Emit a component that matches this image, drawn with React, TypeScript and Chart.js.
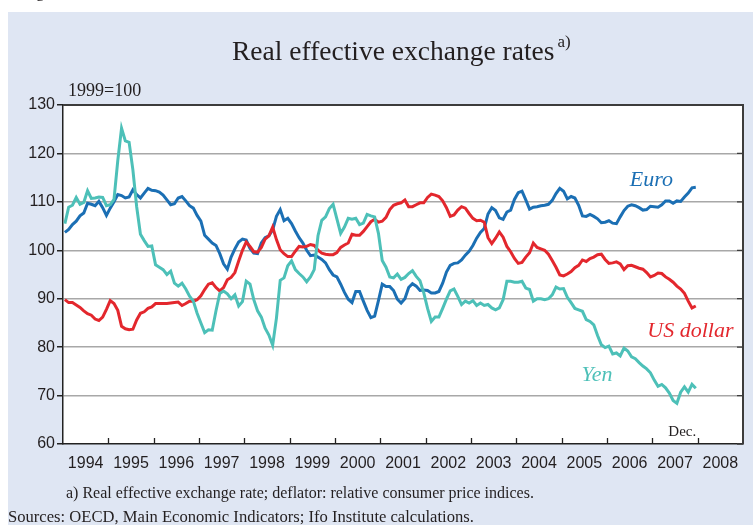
import React, { useEffect, useRef } from "react";
import { Chart, registerables } from "chart.js";

Chart.register(...registerables);

// Monthly data, January 1994 to December 2007 (index 1999 = 100)
const START_YEAR = 1994;

const yearLabels = [
  "1994", "1995", "1996", "1997", "1998", "1999", "2000", "2001",
  "2002", "2003", "2004", "2005", "2006", "2007", "2008",
];

const yTickValues = [60, 70, 80, 90, 100, 110, 120, 130];

const euro = [
  103.7, 104.3, 105.3, 106.0, 107.1, 107.7, 109.7, 109.5, 109.2, 110.1, 108.8, 107.2,
  108.7, 110.0, 111.5, 111.3, 110.8, 111.0, 112.5, 111.5, 110.8, 111.8, 112.8, 112.4,
  112.3, 112.0, 111.4, 110.4, 109.4, 109.6, 110.8, 111.1, 110.2, 109.2, 108.7, 107.2,
  106.0, 103.1, 102.3, 101.5, 101.0, 99.3, 97.2, 96.1, 98.6, 100.3, 101.7, 102.3,
  102.1, 100.4, 99.4, 99.3, 101.5, 102.6, 103.0, 104.2, 107.0, 108.4, 106.1, 106.6,
  105.5, 104.0, 102.6, 101.5, 100.0, 98.9, 99.0, 98.6, 98.1, 97.4, 96.0, 94.9,
  94.5, 93.0, 91.3, 89.9, 89.2, 91.5, 91.5, 89.5, 87.6, 86.1, 86.4, 89.6,
  93.0, 92.5, 92.5, 91.7, 89.9, 89.1, 90.0, 92.3, 93.1, 92.6, 91.7, 91.8,
  91.7, 91.2, 91.2, 91.5, 93.2, 95.5, 96.9, 97.3, 97.4, 98.0, 99.0, 99.8,
  101.0, 102.5, 103.7, 104.5, 107.5, 108.8, 108.2, 106.7, 106.4, 107.9, 108.3, 110.5,
  111.9, 112.2, 110.4, 108.5, 108.9, 109.0, 109.2, 109.3, 109.5, 110.3, 111.7, 112.8,
  112.2, 110.6, 111.1, 110.8, 109.3, 107.1, 107.0, 107.4, 107.0, 106.5, 105.7, 105.8,
  106.1, 105.6, 105.5, 106.9, 108.2, 109.1, 109.4, 109.2, 108.8, 108.3, 108.4, 109.1,
  109.0, 108.9, 109.4, 110.2, 110.2, 109.7, 110.2, 110.1, 111.0, 111.8, 112.9, 113.0,
];

const usDollar = [
  89.8, 89.2, 89.2, 88.7, 88.2, 87.5, 86.9, 86.6, 85.8, 85.5, 86.2, 87.8,
  89.6, 89.0, 87.6, 84.3, 83.8, 83.6, 83.7, 85.6, 87.0, 87.3, 88.0, 88.3,
  89.0, 89.0, 89.0, 89.0, 89.1, 89.2, 89.3, 88.6, 89.0, 89.5, 89.5, 89.8,
  90.6, 91.9, 93.0, 93.3, 92.3, 91.6, 92.3, 93.9, 94.4, 95.4, 97.8, 100.0,
  101.7, 100.8, 99.7, 99.6, 100.6, 102.3, 103.0, 104.8, 102.2, 100.1, 99.3, 98.7,
  98.7, 99.8, 100.8, 100.7, 100.8, 101.2, 101.0, 100.0, 99.4, 99.2, 99.1, 99.1,
  99.5, 100.6, 101.1, 101.5, 103.3, 103.1, 103.1, 103.9, 104.9, 105.9, 106.4, 105.8,
  106.0, 106.8, 108.4, 109.3, 109.6, 109.8, 110.4, 109.0, 109.0, 109.4, 109.8, 109.8,
  110.9, 111.6, 111.4, 111.1, 110.2, 108.8, 107.0, 107.3, 108.3, 109.0, 108.7, 107.6,
  106.6, 106.1, 106.2, 105.8, 102.6, 101.4, 102.5, 103.8, 102.7, 100.8, 99.7, 98.3,
  97.3, 97.5, 98.6, 99.5, 101.5, 100.6, 100.3, 100.0, 99.2, 97.9, 96.5, 94.9,
  94.7, 95.1, 95.6, 96.4, 96.9, 98.0, 97.7, 98.3, 98.6, 99.1, 99.2, 98.1,
  97.3, 97.4, 97.6, 97.2, 96.0, 96.8, 96.9, 96.6, 96.3, 96.1, 95.4, 94.5,
  94.8, 95.3, 95.2, 94.5, 94.0, 93.4, 92.6, 92.0, 91.1, 89.5, 88.1, 88.5,
];

const yen = [
  105.5, 108.9, 109.3, 110.9, 109.5, 109.9, 112.3, 110.7, 110.8, 111.0, 110.9, 109.2,
  109.4, 110.5, 118.5, 125.2, 122.6, 122.3, 116.6, 109.0, 103.3, 102.0, 100.8, 100.9,
  97.0, 96.5, 96.0, 95.0, 95.7, 93.2, 92.6, 93.2, 92.0, 90.5, 89.5, 87.0,
  85.0, 83.0, 83.6, 83.5, 87.5, 91.1, 91.6, 91.0, 90.0, 90.8, 88.5, 89.4,
  93.6, 93.0, 89.8, 87.5, 86.2, 83.9, 82.5, 80.4, 86.0, 93.8, 94.3, 96.8,
  97.8, 96.0, 95.2, 94.5, 93.5, 94.5, 96.0, 103.0, 106.2, 106.9, 108.6, 109.5,
  106.5, 103.5, 104.8, 106.6, 106.4, 106.6, 105.3, 105.6, 107.4, 107.1, 106.9, 103.5,
  97.9, 96.5, 94.5, 94.3, 95.1, 94.0, 94.4, 95.2, 95.8, 94.6, 93.7, 91.2,
  88.0, 85.3, 86.2, 86.2, 88.0, 89.9, 91.6, 92.0, 90.5, 88.8, 89.5, 89.1,
  89.6, 88.6, 89.1, 88.6, 88.8, 88.1, 87.7, 88.1, 89.8, 93.6, 93.6, 93.4,
  93.4, 93.6, 92.2, 91.9, 89.5, 90.0, 90.0, 89.8, 90.0, 90.8, 92.4, 92.0,
  92.1, 90.3, 89.2, 88.0, 87.7, 87.4, 85.7, 85.3, 84.6, 82.4, 80.5, 79.9,
  80.2, 78.6, 78.8, 78.2, 79.8, 79.2, 78.0, 77.6, 76.8, 76.1, 75.5, 74.7,
  73.2, 71.9, 72.3, 71.6, 70.5, 69.0, 68.4, 70.7, 71.8, 70.7, 72.3, 71.5,
];

const EURO_COLOR = "#1b6fb4";
const USD_COLOR = "#e3272d";
const YEN_COLOR = "#4dc0b8";
const PANEL_COLOR = "#dfe6f3";
const TEXT_COLOR = "#231f20";
const SERIF = '"Liberation Serif", "Times New Roman", serif';
const SANS = '"Liberation Sans", Arial, sans-serif';

const toPoints = (arr: number[]) =>
  arr.map((v, i) => ({ x: START_YEAR + (i + 0.5) / 12, y: v }));

const seriesLabels = [
  { text: "Euro", x: 2006.98, y: 113.3, color: EURO_COLOR },
  { text: "US dollar", x: 2007.84, y: 82.1, color: USD_COLOR },
  { text: "Yen", x: 2005.78, y: 73.0, color: YEN_COLOR },
];

const decorPlugin = {
  id: "decor",
  beforeDraw(chart: any) {
    const { ctx, chartArea: a, width, height } = chart;
    ctx.save();
    ctx.fillStyle = "#ffffff";
    ctx.fillRect(0, 0, width, height);
    ctx.fillStyle = PANEL_COLOR;
    ctx.fillRect(8, 12, width - 8, height - 12);
    ctx.fillStyle = "#ffffff";
    ctx.fillRect(a.left, a.top, a.right - a.left, a.bottom - a.top);
    ctx.restore();
  },
  afterDraw(chart: any) {
    const { ctx, chartArea: a, scales } = chart;
    const xs = scales.x;
    const ys = scales.y;
    ctx.save();
    // frame: top and right
    ctx.strokeStyle = "#3c3c3c";
    ctx.lineWidth = 2;
    ctx.beginPath();
    ctx.moveTo(a.left, a.top);
    ctx.lineTo(a.right, a.top);
    ctx.lineTo(a.right, a.bottom);
    ctx.stroke();
    // inward ticks on the x axis
    ctx.strokeStyle = "#222";
    ctx.lineWidth = 1.3;
    ctx.beginPath();
    for (let yr = START_YEAR + 1; yr < START_YEAR + yearLabels.length; yr++) {
      const px = Math.round(xs.getPixelForValue(yr)) + 0.5;
      ctx.moveTo(px, a.bottom);
      ctx.lineTo(px, a.bottom - 6);
    }
    ctx.stroke();
    // inward ticks on the right edge
    ctx.strokeStyle = "#3c3c3c";
    ctx.beginPath();
    yTickValues.forEach((v) => {
      const py = ys.getPixelForValue(v);
      ctx.moveTo(a.right, py);
      ctx.lineTo(a.right - 6, py);
    });
    ctx.stroke();

    // series labels
    ctx.textAlign = "center";
    ctx.textBaseline = "alphabetic";
    seriesLabels.forEach((l) => {
      ctx.fillStyle = l.color;
      ctx.font = `italic 22px ${SERIF}`;
      ctx.fillText(l.text, xs.getPixelForValue(l.x), ys.getPixelForValue(l.y));
    });
    ctx.fillStyle = TEXT_COLOR;
    ctx.font = `15px ${SERIF}`;
    ctx.fillText("Dec.", xs.getPixelForValue(2007.66), ys.getPixelForValue(61.6));

    // title
    ctx.textAlign = "left";
    ctx.fillStyle = TEXT_COLOR;
    ctx.font = `27.5px ${SERIF}`;
    const title = "Real effective exchange rates";
    ctx.fillText(title, 232, 60);
    const tw = ctx.measureText(title).width;
    ctx.font = `17px ${SERIF}`;
    ctx.fillText("a)", 232 + tw + 3, 47);

    // unit
    ctx.font = `18px ${SERIF}`;
    ctx.fillText("1999=100", 68, 96);

    // footnotes
    ctx.font = `16px ${SERIF}`;
    ctx.fillText(
      "a) Real effective exchange rate; deflator: relative consumer price indices.",
      66,
      498
    );
    ctx.font = `16.6px ${SERIF}`;
    ctx.fillText(
      "Sources: OECD, Main Economic Indicators; Ifo Institute calculations.",
      8,
      522
    );
    // cut-off caption glyph at top
    ctx.font = `17px ${SERIF}`;
    ctx.fillText("g", 36, -3);
    ctx.restore();
  },
};

export default function App() {
  const canvasRef = useRef<HTMLCanvasElement | null>(null);

  useEffect(() => {
    const canvas = canvasRef.current;
    if (!canvas) return;
    const chart = new Chart(canvas, {
      type: "line",
      data: {
        datasets: [
          {
            label: "Yen",
            data: toPoints(yen),
            borderColor: YEN_COLOR,
            borderWidth: 3,
            pointRadius: 0,
            tension: 0,
          },
          {
            label: "US dollar",
            data: toPoints(usDollar),
            borderColor: USD_COLOR,
            borderWidth: 3,
            pointRadius: 0,
            tension: 0,
          },
          {
            label: "Euro",
            data: toPoints(euro),
            borderColor: EURO_COLOR,
            borderWidth: 3,
            pointRadius: 0,
            tension: 0,
          },
        ],
      },
      options: {
        responsive: false,
        animation: false,
        devicePixelRatio: 1,
        layout: { padding: { left: 8, top: 105, right: 10, bottom: 41 } },
        plugins: {
          legend: { display: false },
          title: { display: false },
          tooltip: { enabled: false },
        },
        scales: {
          x: {
            type: "linear",
            min: START_YEAR,
            max: START_YEAR + yearLabels.length,
            afterBuildTicks: (scale: any) => {
              scale.ticks = yearLabels.map((_, i) => ({ value: START_YEAR + i + 0.5 }));
            },
            afterFit: (scale: any) => {
              scale.height = 40;
            },
            grid: { display: false, drawTicks: false },
            border: { display: true, color: "#222", width: 1.5 },
            ticks: {
              autoSkip: false,
              maxRotation: 0,
              padding: 10,
              color: TEXT_COLOR,
              font: { family: SANS, size: 16 },
              callback: (_v: any, i: number) => yearLabels[i],
            },
          },
          y: {
            type: "linear",
            min: 60,
            max: 130,
            afterBuildTicks: (scale: any) => {
              scale.ticks = yTickValues.map((v) => ({ value: v }));
            },
            afterFit: (scale: any) => {
              scale.width = 55;
            },
            grid: {
              color: (c: any) =>
                c.tick && (c.tick.value === 60 || c.tick.value === 130)
                  ? "rgba(0,0,0,0)"
                  : "#a8a8a8",
              lineWidth: 1.5,
              drawTicks: true,
              tickLength: 6,
              tickColor: "#222",
            },
            border: { display: true, color: "#222", width: 1.5 },
            ticks: {
              padding: 2,
              color: TEXT_COLOR,
              font: { family: SANS, size: 16 },
              callback: (v: any) => String(v),
            },
          },
        },
      },
      plugins: [decorPlugin],
    } as any);
    return () => chart.destroy();
  }, []);

  return (
    <div style={{ position: "fixed", left: 0, top: 0, width: 753, height: 525 }}>
      <canvas
        ref={canvasRef}
        width={753}
        height={525}
        style={{ display: "block", width: 753, height: 525 }}
      />
    </div>
  );
}
